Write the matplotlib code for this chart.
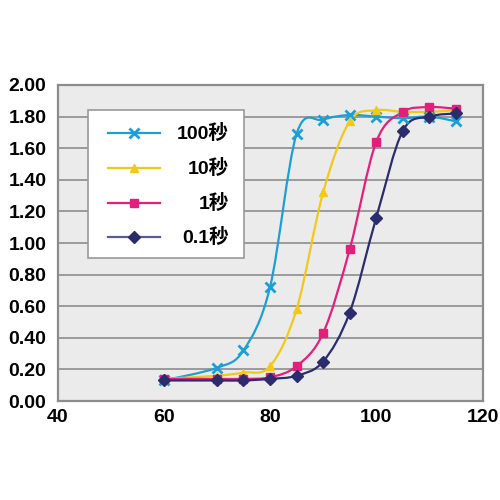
import matplotlib
matplotlib.use("Agg")
import matplotlib.pyplot as plt
import numpy as np
from matplotlib.path import Path
from matplotlib.patches import PathPatch, Rectangle
from matplotlib.lines import Line2D

plt.rcParams["font.family"] = ["Liberation Sans", "Noto Sans CJK JP", "DejaVu Sans"]

# データ
x_vals = [60, 70, 75, 80, 85, 90, 95, 100, 105, 110, 115]
s100 = [0.13, 0.21, 0.32, 0.72, 1.69, 1.78, 1.81, 1.80, 1.79, 1.80, 1.77]
s10 = [0.14, 0.16, 0.18, 0.22, 0.58, 1.32, 1.77, 1.84, 1.83, 1.83, 1.84]
s1 = [0.14, 0.14, 0.14, 0.15, 0.22, 0.43, 0.96, 1.64, 1.83, 1.86, 1.85]
s01 = [0.13, 0.13, 0.13, 0.14, 0.16, 0.25, 0.56, 1.16, 1.71, 1.80, 1.82]

labels = ["100秒", "10秒", "1秒", "0.1秒"]
series = [s100, s10, s1, s01]
colors = ["#1b9fd6", "#f2c81a", "#e2207c", "#2b2c6e"]
line_colors = ["#1b9fd6", "#f2c81a", "#e2207c", "#5b5b8c"]
markers = ["x", "^", "s", "D"]
x_ticks = [40, 60, 80, 100, 120]
y_ticks = [0.0, 0.2, 0.4, 0.6, 0.8, 1.0, 1.2, 1.4, 1.6, 1.8, 2.0]


def smooth_path(xs, ys, t=0.5):
    # Catmull-Rom -> ベジェ曲線
    pts = np.column_stack([np.asarray(xs, float), np.asarray(ys, float)])
    verts = [pts[0]]
    codes = [Path.MOVETO]
    n = len(pts)
    for i in range(n - 1):
        p0 = pts[i - 1] if i > 0 else pts[i]
        p1 = pts[i]
        p2 = pts[i + 1]
        p3 = pts[i + 2] if i + 2 < n else pts[i + 1]
        c1 = p1 + (p2 - p0) * t / 3
        c2 = p2 - (p3 - p1) * t / 3
        verts += [c1, c2, p2]
        codes += [Path.CURVE4] * 3
    return Path(verts, codes)


def marker_kw(m, c):
    if m == "x":
        return dict(marker=m, ms=7, mew=2, mec=c)
    return dict(marker=m, ms=6, mfc=c, mec=c)


fig = plt.figure(figsize=(5, 5), dpi=100)
ax = fig.add_axes([0.115, 0.198, 0.85, 0.632])
ax.set_facecolor("#ebebeb")

for ys, c, m in zip(series, colors, markers):
    ax.add_patch(PathPatch(smooth_path(x_vals, ys), fill=False,
                           edgecolor=c, lw=1.6, zorder=3))
    ax.plot(x_vals, ys, ls="none", color=c, zorder=4, **marker_kw(m, c))

ax.set_xlim(40, 120)
ax.set_ylim(0, 2.0)
ax.set_xticks(x_ticks)
ax.set_yticks(y_ticks)
ax.set_yticklabels([f"{v:.2f}" for v in y_ticks])
ax.tick_params(length=0, labelsize=14)
ax.tick_params(axis="x", pad=6)
ax.tick_params(axis="y", pad=8)
for lbl in ax.get_xticklabels() + ax.get_yticklabels():
    lbl.set_fontweight("bold")
ax.grid(axis="y", color="#9a9a9a", lw=1.4)
ax.set_axisbelow(True)
for sp in ax.spines.values():
    sp.set_color("#8c8c8c")
    sp.set_linewidth(1.6)

# 凡例（手描き）
def px(x, y):
    return x / 500, 1 - y / 500

tf = fig.transFigure
x0, y0 = px(88, 258)
x1, y1 = px(244, 110)
fig.patches.append(Rectangle((x0, y0), x1 - x0, y1 - y0, transform=tf,
                             facecolor="white", edgecolor="#9a9a9a",
                             lw=1.2, zorder=5))
row_y = [133, 168, 203, 237]
for lab, c, lc, m, ry in zip(labels, colors, line_colors, markers, row_y):
    xa, ya = px(108, ry)
    xb, _ = px(160, ry)
    xm, _ = px(134, ry)
    fig.lines.append(Line2D([xa, xb], [ya, ya], transform=tf, color=lc,
                            lw=1.6, zorder=6))
    fig.lines.append(Line2D([xm], [ya], transform=tf, ls="none", color=c,
                            zorder=7, **marker_kw(m, c)))
    xt, _ = px(229, ry)
    fig.text(xt, ya, lab, ha="right", va="center", fontsize=14,
             fontweight="bold", zorder=8)

fig.savefig("out.png", dpi=100, facecolor="white")
